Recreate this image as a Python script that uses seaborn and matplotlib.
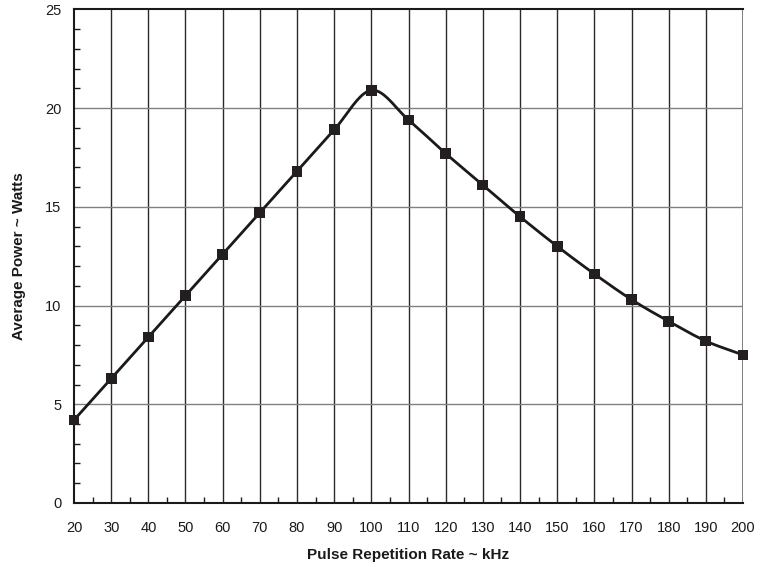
import numpy as np
import pandas as pd
import matplotlib
matplotlib.use("Agg")
import matplotlib.pyplot as plt
import seaborn as sns
from matplotlib.ticker import MultipleLocator

rate_khz = [20, 30, 40, 50, 60, 70, 80, 90, 100, 110, 120, 130, 140, 150, 160, 170, 180, 190, 200]
power_w = [4.2, 6.3, 8.4, 10.5, 12.6, 14.7, 16.8, 18.9, 20.9, 19.4, 17.7, 16.1, 14.5, 13.0, 11.6, 10.3, 9.2, 8.2, 7.5]
x_ticks = list(range(20, 201, 10))
y_ticks = [0, 5, 10, 15, 20, 25]

sns.set_theme(style="white")
plt.rcParams['font.family'] = ['Liberation Sans', 'DejaVu Sans']

def catmull_rom(x, y, n=20):
    x = np.asarray(x, float); y = np.asarray(y, float)
    px = np.concatenate([[2*x[0]-x[1]], x, [2*x[-1]-x[-2]]])
    py = np.concatenate([[2*y[0]-y[1]], y, [2*y[-1]-y[-2]]])
    xs, ys = [], []
    t = np.linspace(0, 1, n, endpoint=False)
    for i in range(1, len(px)-2):
        for arr, out in ((px, xs), (py, ys)):
            p0, p1, p2, p3 = arr[i-1], arr[i], arr[i+1], arr[i+2]
            out.extend(0.5*((2*p1) + (-p0+p2)*t + (2*p0-5*p1+4*p2-p3)*t**2 + (-p0+3*p1-3*p2+p3)*t**3))
    xs.append(x[-1]); ys.append(y[-1])
    return np.array(xs), np.array(ys)

sx, sy = catmull_rom(rate_khz, power_w)
df = pd.DataFrame({"rate": rate_khz, "power": power_w})
smooth = pd.DataFrame({"rate": sx, "power": sy})

fig = plt.figure(figsize=(7.66, 5.67), dpi=100)
ax = fig.add_axes([0.0966, 0.1129, 0.8734, 0.8707])

ax.set_xlim(20, 200)
ax.set_ylim(0, 25)
ax.set_xticks(x_ticks)
ax.set_yticks(y_ticks)
ax.xaxis.set_minor_locator(MultipleLocator(5))
ax.yaxis.set_minor_locator(MultipleLocator(1))

for v in x_ticks[1:-1]:
    ax.axvline(v, color="#2a2a2a", lw=1.0, zorder=1)
ax.axvline(x_ticks[-1], color="#6a6a6a", lw=1.2, zorder=1)
for v in y_ticks[1:-1]:
    ax.axhline(v, color="#808080", lw=1.0, zorder=1)

sns.lineplot(data=smooth, x="rate", y="power", ax=ax, color="#1a1a1a", lw=2.0, zorder=3, clip_on=False)
sns.scatterplot(data=df, x="rate", y="power", ax=ax, marker="s", s=60, color="#231f20",
                edgecolor="none", zorder=4, clip_on=False)

for s in ["left", "bottom", "top"]:
    ax.spines[s].set_color("#1a1a1a")
    ax.spines[s].set_linewidth(1.5)
ax.spines["right"].set_visible(False)

ax.tick_params(axis="both", which="major", direction="in", length=0, labelsize=10.5, colors="#1a1a1a")
ax.tick_params(axis="x", which="minor", direction="in", length=4, width=1, color="#1a1a1a", bottom=True)
ax.tick_params(axis="y", which="minor", direction="in", length=4, width=1, color="#1a1a1a", left=True)
ax.tick_params(axis="x", which="major", pad=13)
ax.tick_params(axis="y", which="major", pad=9)

ax.set_xlabel("Pulse Repetition Rate ~ kHz", fontsize=11, fontweight="bold", color="#1a1a1a", labelpad=9)
ax.set_ylabel("Average Power ~ Watts", fontsize=11, fontweight="bold", color="#1a1a1a", labelpad=14)

fig.savefig("out.png", dpi=100, facecolor="white")
